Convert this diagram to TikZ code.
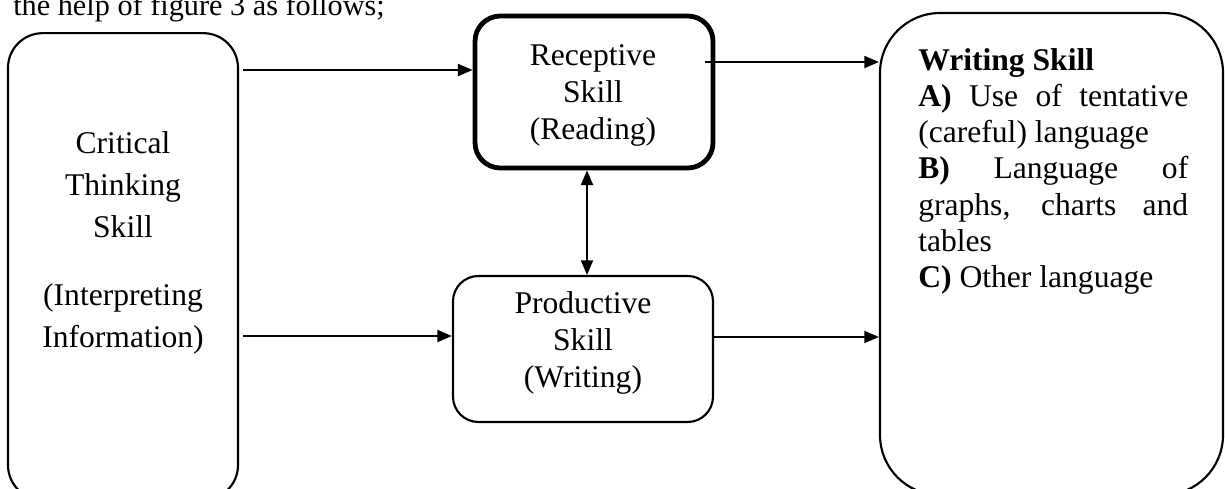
\documentclass[tikz,border=0pt]{standalone}
\usepackage{fontspec}
\setmainfont{Liberation Serif}
\usetikzlibrary{arrows.meta}
\begin{document}
\begin{tikzpicture}[x=0.75pt,y=-0.75pt,
  box/.style={draw,line width=1.6pt,inner sep=0pt},
  thickbox/.style={draw,line width=3.6pt,inner sep=0pt},
  arr/.style={line width=1.5pt,-{Triangle[length=11pt,width=9pt]}},
  darr/.style={line width=1.5pt,{Triangle[length=11pt,width=9pt]}-{Triangle[length=11pt,width=9pt]}},
  lbl/.style={anchor=base,inner sep=0pt},
  bigfont/.style={font=\fontsize{23.7}{28.1}\selectfont},
]
\useasboundingbox (0,0) rectangle (1225,489);
\clip (0,0) rectangle (1225,489);

% header text (cut at top, as in the source)
\node[anchor=base west,inner sep=0pt,font=\fontsize{22.7}{26}\selectfont] (hdr) at (13,15) {the help of figure 3 as follows;};

% boxes
\node[box,rounded corners=26pt,minimum width=172.5pt,minimum height=350pt] (lb) at (123,266.5) {};
\node[thickbox,rounded corners=19pt,minimum width=178.5pt,minimum height=114pt] (rc) at (594,92) {};
\node[box,rounded corners=19pt,minimum width=195pt,minimum height=109.5pt] (pc) at (583,349) {};
\node[box,rounded corners=45pt,minimum width=257.25pt,minimum height=361.5pt] (wr) at (1051.5,254) {};

% texts
\node[lbl,font=\fontsize{23.7}{31.5}\selectfont] (lbt) at (123,153)
  {\begin{tabular}[t]{@{}c@{}}Critical\\Thinking\\Skill\\[19.5pt](Interpreting\\Information)\end{tabular}};
\node[lbl,bigfont] (rct) at (593,65)
  {\begin{tabular}[t]{@{}c@{}}Receptive\\Skill\\(Reading)\end{tabular}};
\node[lbl,bigfont] (pct) at (583,313)
  {\begin{tabular}[t]{@{}c@{}}Productive\\Skill\\(Writing)\end{tabular}};
\node[anchor=base west,inner sep=0pt,font=\fontsize{23.7}{27.2}\selectfont] (wrt) at (918,70)
  {\begin{tabular}[t]{@{}p{202.5pt}@{}}\textbf{Writing Skill}\newline
   \textbf{A)} Use of tentative\linebreak
   (careful) language\newline
   \textbf{B)} Language of\linebreak
   graphs, charts and\linebreak
   tables\newline
   \textbf{C)} Other language\end{tabular}};

% connectors
\coordinate (a1) at (243,70);
\coordinate (a2) at (705,62);
\coordinate (a3) at (243,336);
\coordinate (a4) at (713,337);
\coordinate (dv) at (587,0);
\draw[arr] (a1) -- (rc.west |- a1);
\draw[arr] (a2) -- (wr.west |- a2);
\draw[arr] (a3) -- (pc.west |- a3);
\draw[arr] (pc.east |- a4) -- (wr.west |- a4);
\draw[darr] (rc.south -| dv) -- (pc.north -| dv);
\end{tikzpicture}
\end{document}
